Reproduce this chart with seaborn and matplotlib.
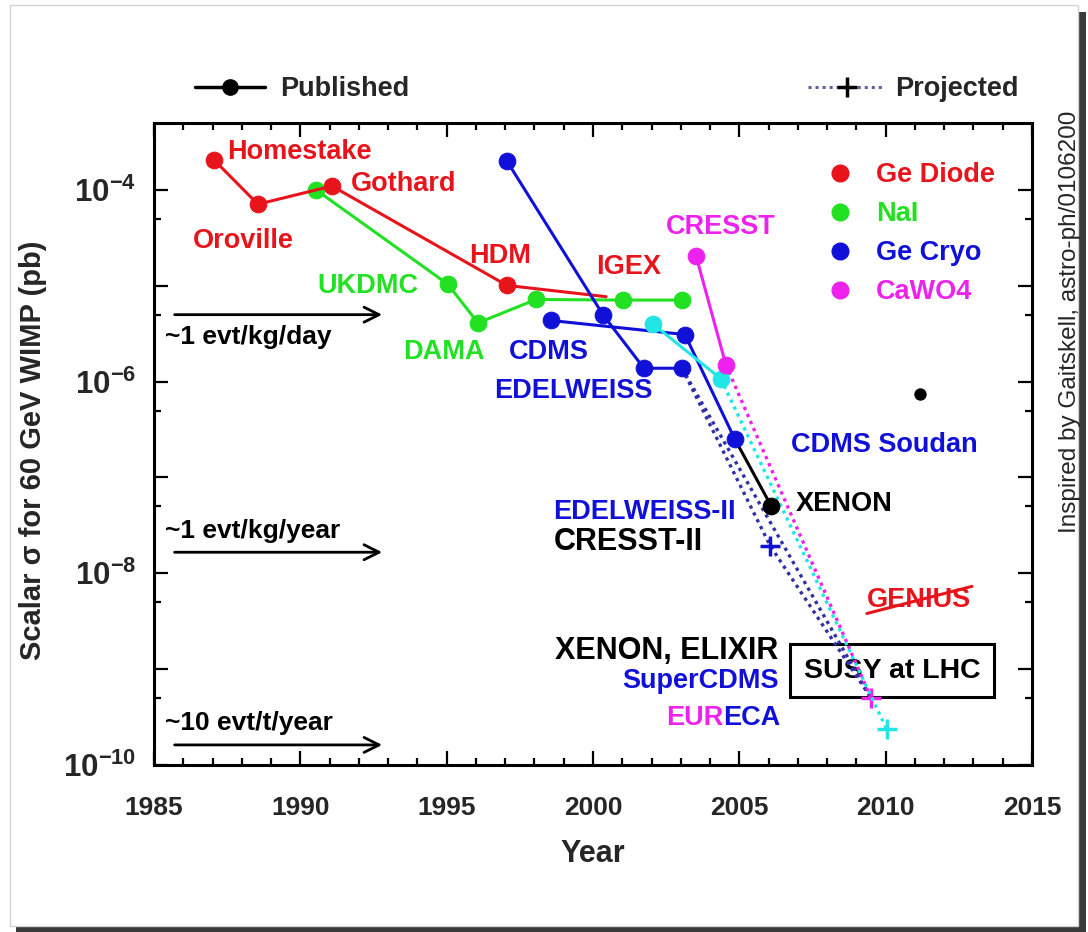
import numpy as np
import pandas as pd
import matplotlib
matplotlib.use("Agg")
import matplotlib.pyplot as plt
import seaborn as sns
from matplotlib.lines import Line2D
from matplotlib.patches import Rectangle
from matplotlib.ticker import FixedLocator, FixedFormatter, MultipleLocator, NullFormatter

# ---------------- data ----------------
ge_diode_year = [1987.05, 1988.55, 1991.08, 1997.06, 2000.45]
ge_diode_sigma = [2.06e-4, 7.1e-5, 1.1e-4, 1.01e-5, 7.7e-6]
nai_year = [1990.54, 1995.04, 1996.07, 1998.05, 2001.04, 2003.03]
nai_sigma = [1.0e-4, 1.04e-5, 4.1e-6, 7.2e-6, 7.1e-6, 7.1e-6]
edelweiss_year = [1997.06, 2000.34, 2001.74, 2003.04]
edelweiss_sigma = [2.0e-4, 5.0e-6, 1.38e-6, 1.38e-6]
cdms_year = [1998.56, 2003.14, 2004.85]
cdms_sigma = [4.35e-6, 3.1e-6, 2.5e-7]
xenon_year = [2004.85, 2006.08]
xenon_sigma = [2.5e-7, 5.1e-8]
cresst_year = [2003.52, 2004.54]
cresst_sigma = [2.06e-5, 1.5e-6]
cyan_year = [2002.05, 2004.37]
cyan_sigma = [4.0e-6, 1.07e-6]
lone_year = [2011.17]
lone_sigma = [7.4e-7]

# projected (dotted)
proj_edw2_year = [2003.04, 2006.05, 2009.5]
proj_edw2_sigma = [1.38e-6, 1.95e-8, 5.0e-10]
proj_super_year = [2003.04, 2009.5]
proj_super_sigma = [1.38e-6, 5.0e-10]
proj_cresst_year = [2004.54, 2009.5]
proj_cresst_sigma = [1.5e-6, 5.0e-10]
proj_cyan_year = [2004.37, 2010.04]
proj_cyan_sigma = [1.07e-6, 2.35e-10]

genius_strike_year = [2009.36, 2012.95]
genius_strike_sigma = [3.81e-9, 7.31e-9]

rate_labels = ["~1 evt/kg/day", "~1 evt/kg/year", "~10 evt/t/year"]
rate_sigma = [5.0e-6, 1.66e-8, 1.62e-10]

legend_names = ["Ge Diode", "NaI", "Ge Cryo", "CaWO4"]

x_ticks = [1985, 1990, 1995, 2000, 2005, 2010, 2015]
y_decades = [-10, -9, -8, -7, -6, -5, -4]

# ---------------- style ----------------
RED = "#e8141c"
GREEN = "#22e022"
BLUE = "#1010d8"
MAGENTA = "#ee22ee"
CYAN = "#22e6e6"
DOTBLUE = "#3030a8"

sns.set_theme(style="ticks")
plt.rcParams["font.family"] = ["Liberation Sans", "DejaVu Sans"]
plt.rcParams["font.weight"] = "bold"
plt.rcParams["mathtext.fontset"] = "custom"
plt.rcParams["mathtext.rm"] = "Liberation Sans:bold"
plt.rcParams["mathtext.bf"] = "Liberation Sans:bold"
plt.rcParams["mathtext.it"] = "Liberation Sans:bold"

fig = plt.figure(figsize=(10.88, 9.32), dpi=100)
fig.patch.set_facecolor("white")
# page frame with shadow
fig.patches.append(Rectangle((16 / 1088, 0), 1070 / 1088, 920 / 932,
                             transform=fig.transFigure, facecolor="#3a3a3a",
                             edgecolor="none", zorder=-3))
fig.patches.append(Rectangle((10 / 1088, 6 / 932), 1068 / 1088, 921 / 932,
                             transform=fig.transFigure, facecolor="white",
                             edgecolor="#d4d4d4", lw=1, zorder=-2))

ax = fig.add_axes([154 / 1088, (932 - 765) / 932, 878 / 1088, 642 / 932])
ax.set_facecolor("white")
ax.set_yscale("log")

LW = 2.2
MS = 12
DOT = (0, (1, 1.3))

# projected dotted lines
sns.lineplot(x=proj_edw2_year, y=proj_edw2_sigma, ax=ax, color=DOTBLUE, lw=2.4,
             linestyle=DOT, marker="+", ms=14, mew=2.5, mec=BLUE,
             markevery=[1], sort=False, estimator=None, zorder=3)
sns.lineplot(x=proj_super_year, y=proj_super_sigma, ax=ax, color=DOTBLUE, lw=2.4,
             linestyle=DOT, sort=False, estimator=None, zorder=3)
sns.lineplot(x=proj_cresst_year, y=proj_cresst_sigma, ax=ax, color=MAGENTA, lw=2.4,
             linestyle=DOT, marker="+", ms=14, mew=2.5, mec=MAGENTA,
             markevery=[1], sort=False, estimator=None, zorder=3)
sns.lineplot(x=proj_cyan_year, y=proj_cyan_sigma, ax=ax, color=CYAN, lw=2.4,
             linestyle=DOT, marker="+", ms=14, mew=2.5, mec=CYAN,
             markevery=[1], sort=False, estimator=None, zorder=3)

# published solid lines
sns.lineplot(x=nai_year, y=nai_sigma, ax=ax, color=GREEN, lw=LW, marker="o",
             ms=MS, mec=GREEN, sort=False, estimator=None, zorder=4)
sns.lineplot(x=ge_diode_year, y=ge_diode_sigma, ax=ax, color=RED, lw=LW, marker="o",
             ms=MS, mec=RED, markevery=[0, 1, 2, 3], sort=False, estimator=None, zorder=4)
sns.lineplot(x=edelweiss_year, y=edelweiss_sigma, ax=ax, color=BLUE, lw=LW, marker="o",
             ms=MS, mec=BLUE, sort=False, estimator=None, zorder=4)
sns.lineplot(x=xenon_year, y=xenon_sigma, ax=ax, color="black", lw=LW, marker="o",
             ms=MS, mec="black", markevery=[1], sort=False, estimator=None, zorder=4)
sns.lineplot(x=cdms_year, y=cdms_sigma, ax=ax, color=BLUE, lw=LW, marker="o",
             ms=MS, mec=BLUE, sort=False, estimator=None, zorder=4)
sns.lineplot(x=cyan_year, y=cyan_sigma, ax=ax, color=CYAN, lw=LW, marker="o",
             ms=MS, mec=CYAN, sort=False, estimator=None, zorder=4)
sns.lineplot(x=cresst_year, y=cresst_sigma, ax=ax, color=MAGENTA, lw=LW, marker="o",
             ms=MS, mec=MAGENTA, sort=False, estimator=None, zorder=4)
sns.scatterplot(x=lone_year, y=lone_sigma, ax=ax, color="black", s=80,
                edgecolor="black", linewidth=0, zorder=5)

# GENIUS strike
ax.plot(genius_strike_year, genius_strike_sigma, color=RED, lw=2.2, zorder=6)

# ---------------- annotations ----------------
FS = 19.5
def lab(x, y, s, c, fs=FS, weight="bold", **kw):
    return ax.text(x, y, s, color=c, fontsize=fs, fontweight=weight,
                   ha="left", va="center", **kw)

lab(1987.49, 2.50e-4, "Homestake", RED)
lab(1986.33, 2.92e-5, "Oroville", RED)
lab(1991.73, 1.16e-4, "Gothard", RED)
lab(1995.76, 2.04e-5, "HDM", RED)
lab(2000.10, 1.56e-5, "IGEX", RED)
lab(1990.57, 9.9e-6, "UKDMC", GREEN)
lab(1993.51, 2.06e-6, "DAMA", GREEN)
lab(1997.13, 2.06e-6, "CDMS", BLUE)
lab(1996.62, 8.05e-7, "EDELWEISS", BLUE)
lab(2002.49, 4.1e-5, "CRESST", MAGENTA)
lab(2006.76, 2.19e-7, "CDMS Soudan", BLUE)
lab(2006.93, 5.29e-8, "XENON", "black")
lab(1998.63, 4.36e-8, "EDELWEISS-II", BLUE)
lab(1998.67, 2.11e-8, "CRESST-II", "black", fs=22)
lab(2009.36, 5.21e-9, "GENIUS", RED)
lab(1998.70, 1.56e-9, "XENON, ELIXIR", "black", fs=22)
lab(2000.99, 7.58e-10, "SuperCDMS", BLUE)
t_eur = lab(2002.49, 3.1e-10, "EUR", MAGENTA)
ax.annotate("ECA", xy=(1, 0), xycoords=t_eur, ha="left", va="bottom",
            color=BLUE, fontsize=FS, fontweight="bold")
ax.text(2010.21, 9.64e-10, "SUSY at LHC", color="black", fontsize=20.5,
        fontweight="bold", ha="center", va="center",
        bbox=dict(boxstyle="square,pad=0.48", facecolor="none",
                  edgecolor="black", lw=2.2), zorder=2)

rate_text_sigma = [2.89e-6, 2.75e-8, 2.75e-10]
for s, ys, yt in zip(rate_labels, rate_sigma, rate_text_sigma):
    ax.annotate("", xy=(1992.89, ys), xytext=(1985.61, ys),
                arrowprops=dict(arrowstyle="->,head_length=0.9,head_width=0.45",
                                color="black", lw=2.0))
    lab(1985.38, yt, s, "black", fs=19)

# ---------------- axes ----------------
ax.set_xlim(1985, 2015)
ax.set_ylim(1e-10, 5e-4)
ax.xaxis.set_major_locator(FixedLocator(x_ticks))
ax.xaxis.set_major_formatter(FixedFormatter([str(t) for t in x_ticks]))
ax.xaxis.set_minor_locator(MultipleLocator(1))
ax.yaxis.set_major_locator(FixedLocator([10.0 ** d for d in y_decades]))
ax.yaxis.set_major_formatter(FixedFormatter(
    [r"$10^{%d}$" % d if d % 2 == 0 else "" for d in y_decades]))
ax.yaxis.set_minor_locator(FixedLocator([5 * 10.0 ** d for d in y_decades[:-1]]))
ax.yaxis.set_minor_formatter(NullFormatter())

ax.tick_params(which="both", direction="in", top=True, right=True,
               width=1.6, color="black")
ax.tick_params(which="major", length=10)
ax.tick_params(which="minor", length=5)
ax.tick_params(axis="x", which="major", pad=22, labelsize=19)
ax.tick_params(axis="y", which="major", pad=13, labelsize=22.5)
for sp in ax.spines.values():
    sp.set_linewidth(2.2)
    sp.set_color("black")

ax.set_xlabel("Year", fontsize=22, fontweight="bold", labelpad=14)
ax.set_ylabel("Scalar \u03c3 for 60 GeV WIMP (pb)", fontsize=21, fontweight="bold")
ax.yaxis.set_label_coords((47 - 154) / 878, 0.49)

# category legend inside the axes
cat_colors = [RED, GREEN, BLUE, MAGENTA]
handles = [Line2D([], [], ls="", marker="o", ms=MS, color=c, mec=c) for c in cat_colors]
leg = ax.legend(handles, legend_names, loc="upper left",
                bbox_to_anchor=((829 - 154) / 878, (765 - 162) / 642),
                borderaxespad=0, borderpad=0, handlelength=0.8,
                handletextpad=0.94, labelspacing=0.48, frameon=False,
                labelcolor=cat_colors,
                prop={"size": FS, "weight": "bold", "family": "Liberation Sans"})

# top legends (published / projected)
pub = Line2D([], [], color="black", lw=2.5, marker="o", ms=11)
proj = Line2D([], [], color="#6060a0", lw=2.2, ls=DOT, marker="+", ms=15,
              mew=2.5, mec="black")
fig.legend([pub], ["Published"], loc="center left",
           bbox_to_anchor=(195 / 1088, 1 - 89 / 932), borderaxespad=0,
           borderpad=0, handlelength=2.6, handletextpad=0.55, frameon=False,
           prop={"size": 19.5, "weight": "bold", "family": "Liberation Sans"})
fig.legend([proj], ["Projected"], loc="center left",
           bbox_to_anchor=(808 / 1088, 1 - 89 / 932), borderaxespad=0,
           borderpad=0, handlelength=2.85, handletextpad=0.37, frameon=False,
           prop={"size": 19.5, "weight": "bold", "family": "Liberation Sans"})

fig.text(1070 / 1088, 1 - 322 / 932, "Inspired by Gaitskell, astro-ph/0106200",
         rotation=90, ha="center", va="center", fontsize=17.5, fontweight="normal")

fig.savefig("out.png", dpi=100)
